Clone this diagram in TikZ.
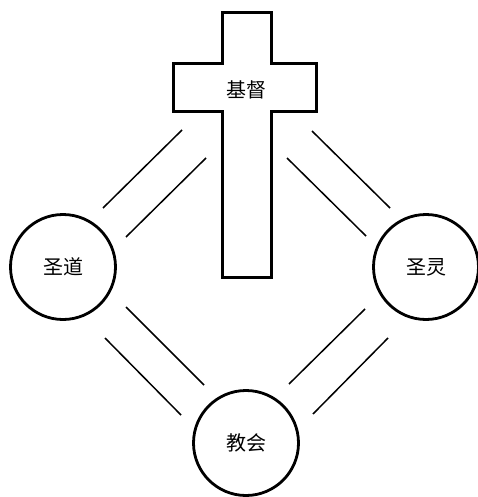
\documentclass[tikz,border=0pt]{standalone}
\usepackage{fontspec}
\newfontfamily\cjk{Noto Sans CJK SC}
\begin{document}
\begin{tikzpicture}[x=1pt,y=-1pt,
  outline/.style={draw=black,line width=3pt,line join=miter},
  ring/.style={circle,draw=black,line width=2.8pt,minimum size=105pt,inner sep=0pt,font=\cjk\fontsize{20}{20}\selectfont},
  bond/.style={draw=black,line width=1.5pt}]
\useasboundingbox (0,0) rectangle (478,497);
% cross
\draw[outline] (222,13) -- (271,13) -- (271,64) -- (316,64) -- (316,112) -- (271,112)
  -- (271,277) -- (222,277) -- (222,112) -- (173,112) -- (173,64) -- (222,64) -- cycle;
\node[font=\cjk\fontsize{20}{20}\selectfont] (christ) at (246,90) {基督};
% circles
\node[ring] (word) at (63,267) {\raisebox{-4pt}{圣道}};
\node[ring] (spirit) at (426,267) {\raisebox{-4pt}{圣灵}};
\node[ring] (church) at (246,443) {\raisebox{-6pt}{教会}};
% parallel lines
\coordinate (g1) at (103,208); \coordinate (g2) at (182,130);
\coordinate (h1) at (126,237); \coordinate (h2) at (206,158);
\coordinate (a1) at (312,131); \coordinate (a2) at (390,208);
\coordinate (b1) at (287,158); \coordinate (b2) at (366,236);
\coordinate (c1) at (126,307); \coordinate (c2) at (204,385);
\coordinate (d1) at (105,338); \coordinate (d2) at (181,415);
\coordinate (e1) at (365,309); \coordinate (e2) at (289,384);
\coordinate (f1) at (388,338); \coordinate (f2) at (313,414);
\draw[bond] (g1) -- (g2);
\draw[bond] (h1) -- (h2);
\draw[bond] (a1) -- (a2);
\draw[bond] (b1) -- (b2);
\draw[bond] (c1) -- (c2);
\draw[bond] (d1) -- (d2);
\draw[bond] (e1) -- (e2);
\draw[bond] (f1) -- (f2);
\end{tikzpicture}
\end{document}
